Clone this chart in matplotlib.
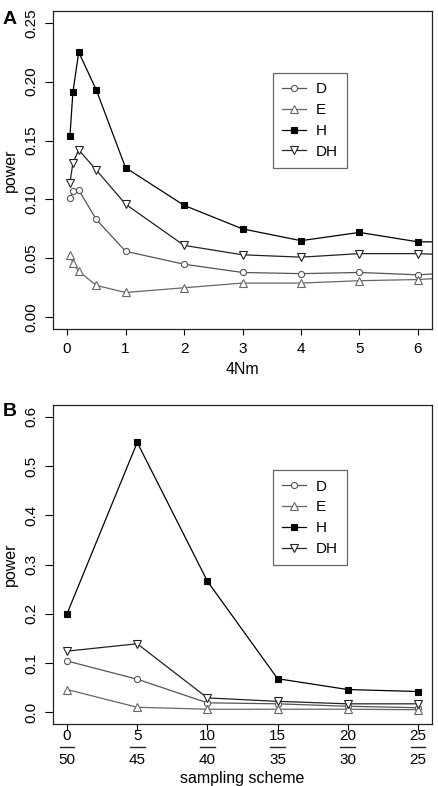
import matplotlib.pyplot as plt
import matplotlib.transforms as mtransforms
from matplotlib.lines import Line2D

plt.rcParams['font.family'] = ['Liberation Sans', 'DejaVu Sans']
plt.rcParams['axes.unicode_minus'] = False

# panel A: power vs 4Nm (last point lies past the axis and is clipped)
nm = [0.05, 0.1, 0.2, 0.5, 1, 2, 3, 4, 5, 6, 7]
power_a = {
    'D':  [0.101, 0.107, 0.108, 0.083, 0.056, 0.045, 0.038, 0.037, 0.038, 0.036, 0.039],
    'E':  [0.053, 0.046, 0.039, 0.027, 0.021, 0.025, 0.029, 0.029, 0.031, 0.032, 0.035],
    'H':  [0.154, 0.191, 0.225, 0.193, 0.127, 0.095, 0.075, 0.065, 0.072, 0.064, 0.064],
    'DH': [0.114, 0.131, 0.142, 0.125, 0.096, 0.061, 0.053, 0.051, 0.054, 0.054, 0.052],
}

# panel B: power vs sampling scheme
scheme_top = ['0', '5', '10', '15', '20', '25']
scheme_bottom = ['50', '45', '40', '35', '30', '25']
scheme_pos = [1, 2, 3, 4, 5, 6]
power_b = {
    'D':  [0.104, 0.067, 0.019, 0.017, 0.012, 0.009],
    'E':  [0.046, 0.010, 0.006, 0.006, 0.006, 0.005],
    'H':  [0.200, 0.548, 0.266, 0.068, 0.046, 0.042],
    'DH': [0.124, 0.139, 0.029, 0.022, 0.017, 0.017],
}

styles = {
    'D':  dict(marker='o', color='#555555', mfc='white', ms=4.4),
    'E':  dict(marker='^', color='#666666', mfc='white', ms=5.5),
    'H':  dict(marker='s', color='black', mfc='black', ms=3.8),
    'DH': dict(marker='v', color='#222222', mfc='white', ms=5.5),
}

W, H = 438, 786
fig = plt.figure(figsize=(W / 100, H / 100), dpi=100)

def px_axes(left, top, right, bottom):
    return fig.add_axes([left / W, 1 - bottom / H, (right - left) / W, (bottom - top) / H])

FS = 11

def setup(ax):
    for s in ax.spines.values():
        s.set_linewidth(0.9)
        s.set_color('#222222')
    ax.tick_params(axis='y', length=6, pad=4.5, labelsize=FS, width=0.8)
    ax.tick_params(axis='x', length=4.5, pad=5, labelsize=FS, width=0.8)
    for lab in ax.get_yticklabels():
        lab.set_rotation(90)
        lab.set_va('center')
    ax.set_ylabel('power', fontsize=FS + 0.5, labelpad=5)

def draw(ax, x, data):
    for name in ['D', 'E', 'H', 'DH']:
        st = styles[name]
        ax.plot(x, data[name], marker=st['marker'], color=st['color'], mfc=st['mfc'],
                mec=st['color'], ms=st['ms'], lw=0.9, mew=0.8, label=name)

def legend(ax, anchor):
    leg = ax.legend(loc='upper left', bbox_to_anchor=anchor, borderaxespad=0,
                    fancybox=False, edgecolor='#666666', fontsize=11,
                    handlelength=1.6, labelspacing=0.45, borderpad=0.6,
                    handletextpad=0.6, framealpha=1)
    leg.get_frame().set_linewidth(0.9)

# ---- panel A
axA = px_axes(53, 11, 432, 329)
draw(axA, nm, power_a)
axA.set_xlim(-0.24, 6.24)
axA.set_ylim(-0.01, 0.26)
axA.set_xticks(range(0, 7))
axA.set_yticks([0.0, 0.05, 0.10, 0.15, 0.20, 0.25])
axA.set_yticklabels(['0.00', '0.05', '0.10', '0.15', '0.20', '0.25'])
setup(axA)
axA.set_xlabel('4Nm', fontsize=FS + 0.5, labelpad=4)
legend(axA, (0.58, 0.805))
fig.text(10 / W, 1 - 19 / H, 'A', fontsize=14, fontweight='bold', ha='center', va='center')

# ---- panel B
axB = px_axes(53, 405, 432, 724)
draw(axB, scheme_pos, power_b)
axB.set_xlim(0.8, 6.2)
axB.set_ylim(-0.024, 0.624)
axB.set_xticks(scheme_pos)
axB.set_xticklabels([])
axB.set_yticks([0.0, 0.1, 0.2, 0.3, 0.4, 0.5, 0.6])
setup(axB)
legend(axB, (0.58, 0.795))
fig.text(10 / W, 1 - 412 / H, 'B', fontsize=14, fontweight='bold', ha='center', va='center')

# fraction-style tick labels: group sizes above/below a short bar
trans = mtransforms.blended_transform_factory(axB.transData, fig.transFigure)
for pos, top, bot in zip(scheme_pos, scheme_top, scheme_bottom):
    fig.text(pos, 1 - 736 / H, top, transform=trans, ha='center', va='center', fontsize=FS)
    fig.text(pos, 1 - 759.5 / H, bot, transform=trans, ha='center', va='center', fontsize=FS)
    fig.add_artist(Line2D([pos - 0.105, pos + 0.105], [1 - 747.3 / H] * 2,
                          transform=trans, color='#222222', lw=1.0))
fig.text((53 + 432) / 2 / W, 1 - 778 / H, 'sampling scheme', ha='center', va='center',
         fontsize=FS + 0.5)

fig.savefig('out.png', dpi=100)
